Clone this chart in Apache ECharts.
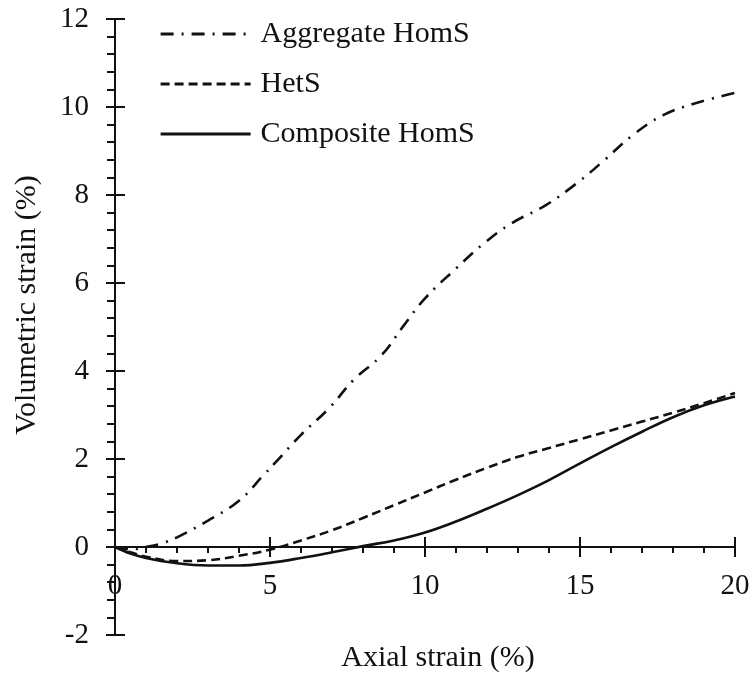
<!DOCTYPE html>
<html>
<head>
<meta charset="utf-8">
<script src="https://cdn.jsdelivr.net/npm/echarts@6/dist/echarts.min.js"></script>
<style>
  html, body { margin: 0; padding: 0; background: #fff; }
  #chart { width: 755px; height: 677px; }
</style>
</head>
<body>
<div id="chart"></div>
<script>
// values, [axial strain %, volumetric strain %]
const aggregate_homs = [
    [0, 0], [0.5, -0.05], [1, 0], [1.5, 0.08], [2, 0.22], [3, 0.6], [4, 1.05],
    [4.8, 1.64], [5.2, 1.94], [6, 2.55], [6.9, 3.15], [7.7, 3.8], [8.6, 4.36],
    [9.3, 5.02], [10, 5.65], [11, 6.33], [11.9, 6.9], [12.8, 7.36], [13.9, 7.77],
    [14.9, 8.27], [15.8, 8.8], [16.7, 9.36], [17.7, 9.82], [18.8, 10.1], [20, 10.32]
]
const hets = [
    [0, 0], [0.5, -0.12], [1, -0.22], [2, -0.32], [3, -0.3], [4, -0.2], [5, -0.06],
    [6, 0.15], [7, 0.38], [8, 0.66], [9, 0.95], [10, 1.24], [11, 1.53], [12, 1.8],
    [13, 2.05], [14, 2.25], [15, 2.45], [16, 2.65], [17, 2.85], [18, 3.05],
    [19, 3.27], [20, 3.5]
]
const composite_homs = [
    [0, 0], [0.5, -0.15], [1, -0.25], [2, -0.37], [3, -0.42], [4, -0.42], [5, -0.36],
    [6, -0.25], [7, -0.12], [8, 0.02], [9, 0.15], [10, 0.33], [11, 0.58], [12, 0.87],
    [13, 1.18], [14, 1.52], [15, 1.9], [16, 2.27], [17, 2.62], [18, 2.95],
    [19, 3.22], [20, 3.42]
]
const series_names = ['Aggregate HomS', 'HetS', 'Composite HomS']

const ink = '#111'
const font = 'Liberation Serif, Times New Roman, serif'

const chart = echarts.init(document.getElementById('chart'))

const xBase = {type: 'value', min: 0, max: 20, interval: 5, splitLine: {show: false}}
const yBase = {
    type: 'value', min: -2, max: 12, interval: 2,
    splitLine: {show: false},
    axisLine: {onZero: false, lineStyle: {color: ink, width: 2}}
}
const tickLine = {color: ink, width: 2}

const makeLine = (name, data, type) => ({
    name: name,
    type: 'line',
    xAxisIndex: 0,
    yAxisIndex: 0,
    data: data,
    smooth: 0.4,
    symbol: 'none',
    itemStyle: {color: ink},
    lineStyle: {color: ink, width: 2.6, type: type, cap: 'butt'}
})

let option = {
    animation: false,
    backgroundColor: '#fff',
    // grid 0 holds the curves, grid 1 is a thin strip whose bottom edge sits at y = 0
    grid: [
        {left: 115, right: 20, top: 19, bottom: 42, outerBoundsMode: 'none'},
        {left: 115, right: 20, top: 500, bottom: 130, outerBoundsMode: 'none'}
    ],
    legend: {
        orient: 'vertical',
        left: 154, top: 14,
        itemWidth: 90, itemHeight: 14,
        itemGap: 20,
        data: series_names,
        itemStyle: {opacity: 0},
        lineStyle: {width: 3.2},
        textStyle: {fontFamily: font, fontSize: 30, color: ink, lineHeight: 30, padding: [0, 0, 0, 5]}
    },
    xAxis: [
        Object.assign({}, xBase, {gridIndex: 0, show: false}),
        Object.assign({}, xBase, {
            gridIndex: 1, position: 'bottom',
            axisLine: {onZero: false, lineStyle: {color: ink, width: 2}},
            axisTick: {length: 10, lineStyle: tickLine},
            minorTick: {show: true, splitNumber: 5, length: 6, lineStyle: tickLine},
            axisLabel: {margin: 25, fontFamily: font, fontSize: 29, color: ink}
        }),
        Object.assign({}, xBase, {
            gridIndex: 1, position: 'bottom',
            axisLine: {onZero: false, lineStyle: {color: ink, width: 2}},
            axisTick: {inside: true, length: 10, lineStyle: tickLine},
            axisLabel: {show: false}
        })
    ],
    yAxis: [
        Object.assign({}, yBase, {
            gridIndex: 0, position: 'left',
            axisTick: {length: 9, lineStyle: tickLine},
            minorTick: {show: true, splitNumber: 5, length: 8, lineStyle: tickLine},
            axisLabel: {margin: 26, fontFamily: font, fontSize: 29, color: ink}
        }),
        Object.assign({}, yBase, {
            gridIndex: 0, position: 'left',
            axisTick: {inside: true, length: 10, lineStyle: tickLine},
            axisLabel: {show: false}
        }),
        {type: 'value', gridIndex: 1, show: false}
    ],
    graphic: [
        {
            type: 'text', x: 438, y: 658,
            style: {text: 'Axial strain (%)', fontFamily: font, fontSize: 30, fill: ink,
                    textAlign: 'center', textVerticalAlign: 'middle'}
        },
        {
            type: 'text', x: 27, y: 305, rotation: Math.PI / 2,
            style: {text: 'Volumetric strain (%)', fontFamily: font, fontSize: 30, fill: ink,
                    textAlign: 'center', textVerticalAlign: 'middle'}
        }
    ],
    series: [
        makeLine(series_names[0], aggregate_homs, [13, 8, 2, 8]),
        makeLine(series_names[1], hets, [9, 5]),
        makeLine(series_names[2], composite_homs, 'solid')
    ]
}

chart.setOption(option)
</script>
</body>
</html>
